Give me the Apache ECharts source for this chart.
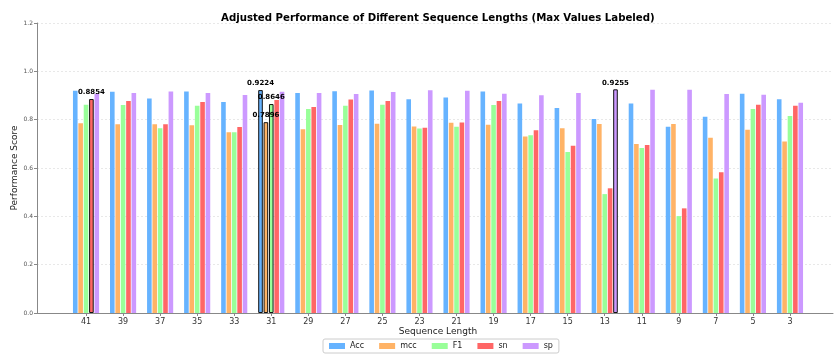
<!DOCTYPE html>
<html>
<head>
<meta charset="utf-8">
<script src="https://cdn.jsdelivr.net/npm/echarts@6/dist/echarts.min.js"></script>
<style>
  html, body { margin: 0; padding: 0; background: #fff; }
  #main { width: 834px; height: 354px; }
</style>
</head>
<body>
<div id="main"></div>
<script>
// sequence lengths (x categories)
const lengths = ["41", "39", "37", "35", "33", "31", "29", "27", "25", "23", "21", "19", "17", "15", "13", "11", "9", "7", "5", "3"];

// metric values
const acc = [0.920, 0.916, 0.888, 0.917, 0.873, 0.9224, 0.910, 0.918, 0.921, 0.885, 0.892, 0.917, 0.867, 0.848, 0.803, 0.867, 0.771, 0.812, 0.907, 0.885];
const mcc = [0.785, 0.781, 0.781, 0.777, 0.748, 0.7896, 0.760, 0.778, 0.783, 0.772, 0.787, 0.779, 0.730, 0.764, 0.782, 0.699, 0.782, 0.725, 0.758, 0.710];
const f1 = [0.862, 0.861, 0.765, 0.858, 0.748, 0.8646, 0.844, 0.858, 0.862, 0.763, 0.771, 0.861, 0.736, 0.666, 0.492, 0.683, 0.401, 0.557, 0.844, 0.815];
const sn = [0.8854, 0.877, 0.781, 0.873, 0.770, 0.881, 0.852, 0.883, 0.877, 0.767, 0.788, 0.877, 0.756, 0.692, 0.516, 0.695, 0.433, 0.582, 0.862, 0.858];
const sp = [0.907, 0.910, 0.917, 0.910, 0.902, 0.916, 0.910, 0.906, 0.914, 0.922, 0.920, 0.907, 0.901, 0.910, 0.9255, 0.924, 0.924, 0.906, 0.903, 0.870];

const seriesNames = ["Acc", "mcc", "F1", "sn", "sp"];
const seriesColors = ["#66b3ff", "#ffb366", "#99ff99", "#ff6666", "#cc99ff"];
const yTicks = [0, 0.2, 0.4, 0.6, 0.8, 1.0, 1.2];

const FONT = "DejaVu Sans";
const chart = echarts.init(document.getElementById("main"));

// mark the max of each metric with a black edge and a label
function withMax(values) {
  const maxVal = Math.max(...values);
  return values.map((v) => {
    if (v !== maxVal) return v;
    return {
      value: v,
      itemStyle: { borderColor: "#111", borderWidth: 1 },
      label: {
        show: true,
        position: "top",
        distance: 3,
        formatter: (p) => p.value.toFixed(4),
        fontFamily: FONT,
        fontSize: 7,
        fontWeight: "bold",
        color: "#000",
      },
    };
  });
}

const allData = [acc, mcc, f1, sn, sp];

const option = {
  animation: false,
  title: {
    text: "Adjusted Performance of Different Sequence Lengths (Max Values Labeled)",
    left: 216,
    top: 8,
    textStyle: { fontFamily: FONT, fontSize: 10.2, fontWeight: "bold", color: "#000" },
  },
  legend: {
    data: seriesNames,
    bottom: 1,
    left: 323,
    itemWidth: 16,
    itemHeight: 6,
    itemGap: 15,
    padding: [3, 6],
    borderColor: "#ccc",
    borderWidth: 1,
    borderRadius: 2,
    icon: "rect",
    textStyle: { fontFamily: FONT, fontSize: 8, color: "#222" },
  },
  grid: [
    { left: 37, right: 1, top: 23, bottom: 41, outerBoundsMode: "none" },
    { left: 67.5, right: 25.5, top: 23, bottom: 41, outerBoundsMode: "none" },
  ],
  xAxis: [
    {
      gridIndex: 0,
      type: "value",
      min: 0,
      max: 1,
      axisLine: { show: true, lineStyle: { color: "#888", width: 1 } },
      axisTick: { show: false },
      axisLabel: { show: false },
      splitLine: { show: false },
    },
    {
      gridIndex: 1,
      type: "category",
      data: lengths,
      name: "Sequence Length",
      nameLocation: "middle",
      nameGap: 14,
      nameMoveOverlap: false,
      nameTextStyle: { fontFamily: FONT, fontSize: 9, color: "#222" },
      axisLine: { show: false },
      axisTick: { show: true, alignWithLabel: true, length: 3, lineStyle: { color: "#888" } },
      axisLabel: { fontFamily: FONT, fontSize: 8, color: "#333", margin: 5 },
    },
  ],
  yAxis: [
    {
      gridIndex: 0,
      type: "value",
      min: 0,
      max: 1.2,
      interval: 0.2,
      name: "Performance Score",
      nameLocation: "middle",
      nameGap: 18,
      nameMoveOverlap: false,
      nameTextStyle: { fontFamily: FONT, fontSize: 9, color: "#222" },
      axisLine: { show: true, lineStyle: { color: "#888", width: 1 } },
      axisTick: { show: true, length: 3, lineStyle: { color: "#888" } },
      axisLabel: {
        fontFamily: FONT,
        fontSize: 6,
        color: "#555",
        margin: 4,
        formatter: (v) => (yTicks.some((t) => Math.abs(t - v) < 1e-9) ? v.toFixed(1) : ""),
      },
      splitLine: { show: true, lineStyle: { color: "#e3e3e3", type: [2, 2], width: 0.8 } },
    },
    {
      gridIndex: 1,
      type: "value",
      min: 0,
      max: 1.2,
      show: false,
      splitLine: { show: false },
    },
  ],
  series: seriesNames.map((name, i) => ({
    name: name,
    type: "bar",
    xAxisIndex: 1,
    yAxisIndex: 1,
    barWidth: 4.6,
    barGap: "17%",
    itemStyle: { color: seriesColors[i] },
    data: withMax(allData[i]),
  })),
};

chart.setOption(option);
</script>
</body>
</html>
